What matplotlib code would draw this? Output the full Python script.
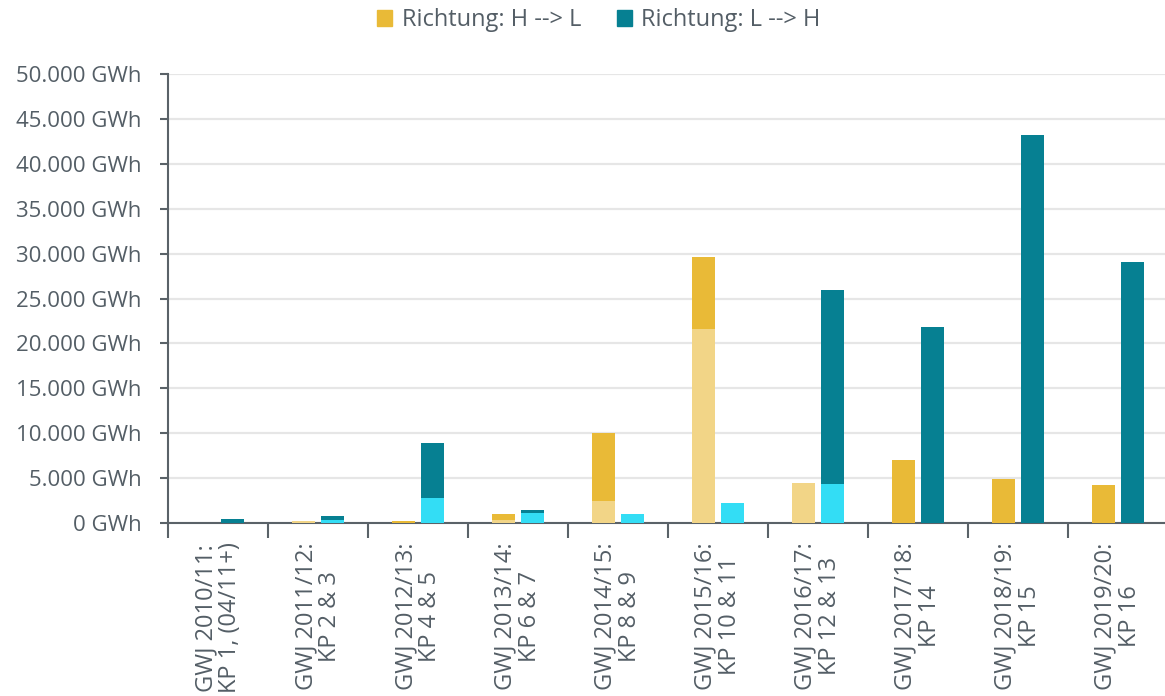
import matplotlib.pyplot as plt
import numpy as np
from matplotlib.patches import Patch
from matplotlib.ticker import FuncFormatter, MultipleLocator

plt.rcParams.update({
    "font.family": ["Open Sans", "DejaVu Sans"],
})

# Data (GWh)
labels = ['GWJ 2010/11:\nKP 1, (04/11+)', 'GWJ 2011/12:\nKP 2 & 3', 'GWJ 2012/13:\nKP 4 & 5',
          'GWJ 2013/14:\nKP 6 & 7', 'GWJ 2014/15:\nKP 8 & 9', 'GWJ 2015/16:\nKP 10 & 11',
          'GWJ 2016/17:\nKP 12 & 13', 'GWJ 2017/18:\nKP 14', 'GWJ 2018/19:\nKP 15',
          'GWJ 2019/20:\nKP 16']
hl_light = [0, 250, 0, 370, 2450, 21600, 4450, 0, 0, 0]
hl_dark = [40, 0, 250, 630, 7540, 7990, 0, 7050, 4950, 4250]
lh_light = [0, 300, 2750, 1110, 1000, 2230, 4300, 0, 0, 0]
lh_dark = [400, 450, 6120, 340, 0, 0, 21600, 21850, 43200, 29100]

c_hl_dark = '#E9BA37'
c_hl_light = '#F2D587'
c_lh_dark = '#068092'
c_lh_light = '#33DDF5'
text_col = '#545E66'
axis_col = '#5A6268'

fig = plt.figure(figsize=(11.65, 6.96), dpi=100)
ax = fig.add_axes([0.1442, 0.2486, 0.858, 0.645])

x = np.arange(len(labels))
w = 0.23
off = 0.145
ax.bar(x - off, hl_light, w, color=c_hl_light, zorder=3)
ax.bar(x - off, hl_dark, w, bottom=hl_light, color=c_hl_dark, zorder=3)
ax.bar(x + off, lh_light, w, color=c_lh_light, zorder=3)
ax.bar(x + off, lh_dark, w, bottom=lh_light, color=c_lh_dark, zorder=3)

ax.set_xlim(-0.5, len(labels) - 0.5)
ax.set_ylim(0, 50000)
ax.yaxis.set_major_locator(MultipleLocator(5000))
ax.yaxis.set_major_formatter(FuncFormatter(lambda v, p: f"{int(v):,} GWh".replace(',', '.')))
ax.grid(axis='y', color='#E6E6E6', lw=1.6, zorder=0)

ax.set_xticks(x)
ax.set_xticklabels(labels, rotation=90, ha='center', va='top', multialignment='center',
                   fontsize=17, color=text_col, linespacing=1.0)
ax.set_xticks(np.arange(len(labels) + 1) - 0.5, minor=True)
ax.tick_params(axis='x', which='major', length=0, pad=14)
ax.tick_params(axis='x', which='minor', length=11, width=1.5, color=axis_col, direction='out')
ax.tick_params(axis='y', length=6, width=1.5, color=axis_col, labelsize=16,
               labelcolor=text_col, pad=13)

for s in ['top', 'right']:
    ax.spines[s].set_visible(False)
for s in ['left', 'bottom']:
    ax.spines[s].set_color(axis_col)
    ax.spines[s].set_linewidth(1.5)

handles = [Patch(color=c_hl_dark, label='Richtung: H --> L'),
           Patch(color=c_lh_dark, label='Richtung: L --> H')]
fig.legend(handles=handles, loc='center', bbox_to_anchor=(0.514, 0.971), ncol=2,
           frameon=False, fontsize=17, labelcolor=text_col, handlelength=0.65,
           handleheight=0.65, handletextpad=0.4, columnspacing=1.5)

fig.savefig('out.png', dpi=100)
